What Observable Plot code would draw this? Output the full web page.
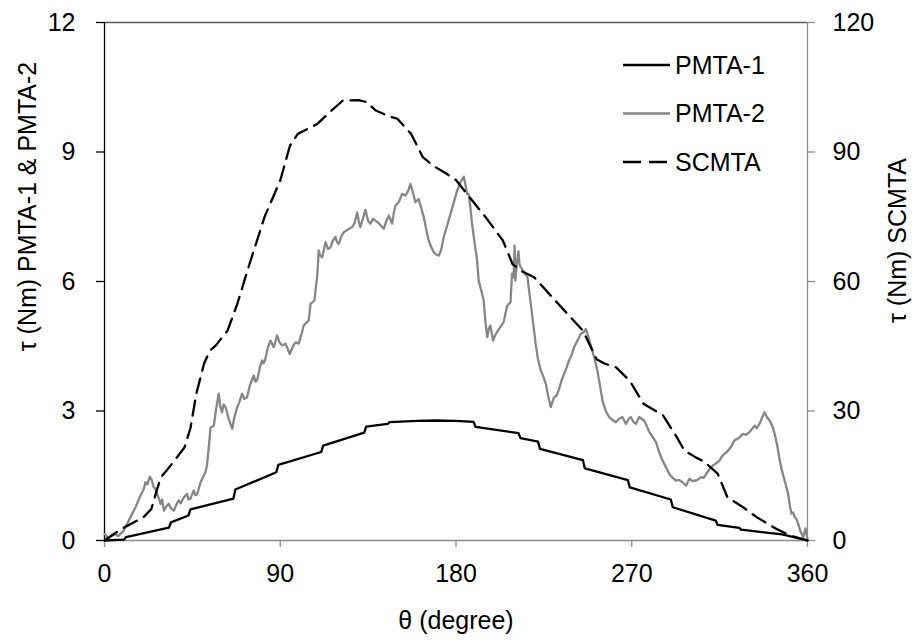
<!DOCTYPE html>
<html><head><meta charset="utf-8">
<script src="https://cdn.jsdelivr.net/npm/d3@7"></script>
<script src="https://cdn.jsdelivr.net/npm/@observablehq/plot@0.6"></script>
<style>
body{margin:0;background:#fff;}
#wrap{position:relative;width:915px;height:643px;font-family:Arial,"Liberation Sans",sans-serif;}
#legend{position:absolute;left:0;top:0;pointer-events:none;}
</style></head><body><div id="wrap"></div>
<script>
// ---- data (degree, torque) ----
const xTicks = [0, 90, 180, 270, 360];
const leftTicks = [0, 3, 6, 9, 12];
const rightTicks = [0, 30, 60, 90, 120];
const seriesNames = ["PMTA-1", "PMTA-2", "SCMTA"];
const xTitle = "θ (degree)";
const yLeftTitle = "τ (Nm) PMTA-1 & PMTA-2";
const yRightTitle = "τ (Nm) SCMTA";

const pmta1 = [[0,0],[10,0.02],[11,0.08],[33,0.30],[34,0.42],[43,0.58],[44,0.72],[66,0.97],[67,1.18],[88,1.58],[89,1.75],[111,2.05],[112,2.2],[133,2.5],[134,2.64],[145,2.70],[146,2.74],[160,2.77],[170,2.78],[180,2.77],[189,2.75],[190,2.63],[212,2.49],[213,2.37],[222,2.29],[223,2.12],[245,1.86],[246,1.67],[268,1.40],[269,1.23],[290,0.95],[291,0.77],[313,0.46],[314,0.36],[325,0.29],[326,0.25],[347,0.14],[360,0]];

const pmta2 = [[0,0.15],[2,0.05],[4,0.12],[5.6,0.15],[7,0.10],[9.9,0.23],[12,0.42],[13.3,0.54],[15.9,0.77],[18.4,1.04],[20,1.18],[21,1.35],[22,1.30],[23.2,1.48],[24.2,1.40],[25.2,1.23],[26,1.20],[27,1.08],[28.7,0.85],[29.5,0.95],[30.4,0.69],[31.5,0.78],[32.9,0.85],[34,0.75],[35.5,0.69],[37,0.85],[38,0.93],[39,0.86],[40.6,1.0],[42.3,1.08],[43,0.95],[44,0.97],[45.7,1.16],[46.5,1.05],[47.5,1.08],[49.2,1.35],[51.7,1.58],[52.5,1.75],[53.4,2.16],[54.3,2.62],[56,2.66],[57,3.0],[58.5,3.40],[59.3,3.1],[60.2,2.97],[61,3.15],[62,3.09],[63.6,2.82],[65.4,2.59],[66.5,2.85],[68,3.09],[69,3.2],[70.5,3.40],[71.5,3.28],[73,3.32],[74.5,3.6],[76.4,3.82],[77.3,3.68],[78.2,3.71],[79.5,4.0],[80.7,4.17],[81.5,4.10],[82.4,4.21],[83.5,4.45],[85,4.63],[86.7,4.48],[88.4,4.75],[89.5,4.6],[91,4.52],[92.7,4.56],[94,4.42],[94.9,4.32],[96.5,4.5],[97.8,4.59],[99.5,4.56],[101,4.80],[102,4.98],[104.6,5.10],[105.5,5.48],[107.5,5.56],[108.3,5.9],[108.9,6.10],[109.7,6.72],[110.5,6.6],[111.5,6.56],[113.2,6.91],[114.5,6.75],[115.7,6.79],[117,6.95],[118.3,7.03],[119,6.92],[120,6.87],[121.3,7.05],[122.5,7.14],[124.5,7.2],[126.8,7.26],[128,7.35],[129.4,7.60],[130.2,7.40],[131,7.26],[132.3,7.45],[133.6,7.66],[135,7.40],[136.2,7.34],[137.5,7.45],[138.7,7.41],[140.5,7.35],[141.8,7.28],[143,7.22],[144.3,7.40],[145.6,7.53],[147.3,7.34],[148.2,7.6],[149,7.76],[150.7,7.84],[152.4,8.03],[154.1,7.99],[155.5,8.1],[156.7,8.26],[158,8.05],[159.2,7.84],[160.9,7.91],[162.2,7.7],[163.5,7.49],[164.8,7.2],[166,6.95],[167.3,6.8],[168.6,6.68],[170,6.62],[171.2,6.60],[172.5,6.75],[173.7,7.03],[175.5,7.3],[177.2,7.57],[179,7.85],[180.6,8.11],[182.3,8.3],[184,8.43],[185,8.2],[185.7,8.03],[186.5,8.03],[187.4,7.7],[188.2,7.34],[189.5,6.9],[190.8,6.49],[191.6,6.02],[192.9,5.8],[194.2,5.56],[195,5.1],[196,4.71],[196.8,4.9],[197.6,4.98],[199,4.63],[200,4.75],[201,4.83],[202.7,4.95],[204.4,5.06],[205.3,5.25],[206.2,5.44],[207.9,5.52],[208.7,6.18],[209.5,6.1],[210,6.83],[210.4,6.02],[211.3,6.49],[212,6.7],[212.5,6.4],[213.2,6.33],[215,6.2],[216.6,6.10],[217.4,5.8],[218.3,5.48],[219.6,5.0],[220.9,4.52],[222,4.2],[223.4,3.94],[224.7,3.8],[226,3.63],[227.2,3.35],[228.5,3.09],[229.3,3.2],[230.2,3.32],[231.5,3.35],[232.8,3.51],[234,3.7],[235.4,3.86],[236.6,4.0],[237.9,4.17],[239.2,4.3],[240.5,4.48],[242.2,4.63],[243.9,4.79],[245.5,4.83],[246.5,4.9],[248.1,4.67],[249.8,4.40],[251,4.2],[252.4,3.94],[253.7,3.6],[255,3.24],[256.7,3.0],[258.4,2.86],[260,2.8],[261.8,2.74],[263.5,2.82],[265.2,2.86],[267,2.70],[268.2,2.8],[269.5,2.86],[270.8,2.75],[272.1,2.70],[273.8,2.86],[275,2.82],[276.3,2.78],[277.7,2.65],[279,2.51],[280.7,2.40],[282.4,2.28],[284,2.05],[285.8,1.85],[287.5,1.70],[289.2,1.54],[291,1.45],[292.6,1.39],[294.3,1.40],[296.1,1.35],[297.8,1.27],[299.5,1.43],[301,1.38],[303,1.39],[304.2,1.42],[305.5,1.47],[306.8,1.45],[308.1,1.54],[309.8,1.65],[311.5,1.74],[313,1.78],[314.9,1.85],[316.2,1.95],[317.5,2.01],[318.7,2.05],[320,2.12],[321.3,2.2],[322.6,2.32],[323.9,2.35],[325.2,2.39],[326.9,2.47],[328.5,2.45],[330.3,2.51],[331.5,2.58],[332.9,2.66],[334,2.6],[335.4,2.70],[336.8,2.85],[338,2.97],[339.3,2.85],[340.6,2.78],[342,2.65],[343.2,2.47],[344.5,2.2],[345.8,1.85],[347,1.6],[348.3,1.39],[350.1,1.08],[351,0.8],[351.8,0.62],[352.6,0.65],[353.5,0.54],[354.3,0.5],[355.2,0.39],[356.5,0.2],[357.8,0.08],[359,0.28],[360,0.02]];

// SCMTA read on the right axis (0–120)
const scmta = [[0,0],[8,2.5],[20,5.4],[24,7.3],[27,12],[29,14.7],[35,18],[41,21.6],[44,26],[47,34],[51,41],[54,44],[57,45.2],[63,48.6],[68,54.8],[74,63.7],[82,75],[90,83.4],[95,91.5],[99,94.2],[109,96.5],[116,99.5],[122,101.9],[130,102],[134,101.6],[139,99.6],[146,98.2],[150,97.7],[157,94.2],[163,88.8],[168,86.9],[175,85],[180,83.5],[187,79.5],[195,75],[204,69.5],[209,64],[214,62.3],[220,61],[232,55],[245,48.6],[252,42],[256,41],[262,40.1],[269,37],[276,31.7],[286,29],[293,24],[297,20.8],[303,19.2],[307,18.3],[314,15.5],[319,10],[327,7.7],[334,5.4],[344,2.7],[352,1],[360,0]];

// ratio between right and left axis extents
const axisRatio = rightTicks[rightTicks.length-1] / leftTicks[leftTicks.length-1];

const FONT = 'Arial, "Liberation Sans", sans-serif';
const FS = 25;
const GRAY_AX = "#8c8c8c";

const chart = Plot.plot({
  width: 915, height: 643,
  marginLeft: 104, marginRight: 108, marginTop: 22, marginBottom: 103,
  style: {fontFamily: FONT, fontSize: FS + "px", background: "#fff", color: "#000"},
  x: {domain: [0, 360]},
  y: {domain: [0, 12]},
  marks: [
    Plot.ruleY([12], {stroke: "#595959", strokeWidth: 1.3}),
    Plot.ruleX([360], {stroke: GRAY_AX, strokeWidth: 1.3}),
    Plot.ruleY([0], {stroke: GRAY_AX, strokeWidth: 1.3}),
    Plot.axisY(leftTicks, {anchor: "left", tickSize: 8, tickPadding: 21, fontSize: FS, stroke: "#000", strokeWidth: 1.3, fill: "#000", label: null}),
    Plot.axisY(rightTicks.map(d => d / axisRatio), {anchor: "right", tickSize: 7, tickPadding: 18, fontSize: FS, stroke: GRAY_AX, strokeWidth: 1.3, fill: "#000", tickFormat: d => String(Math.round(d * axisRatio)), label: null}),
    Plot.axisX(xTicks, {anchor: "bottom", tickSize: 7, tickPadding: 17, fontSize: FS, stroke: GRAY_AX, strokeWidth: 1.3, fill: "#000", label: null}),
    Plot.ruleX([0], {stroke: "#000", strokeWidth: 1.3}),
    Plot.line(pmta1, {x: d => d[0], y: d => d[1], stroke: "#000", strokeWidth: 2.3, strokeLinejoin: "round"}),
    Plot.line(pmta2, {x: d => d[0], y: d => d[1], stroke: "#868686", strokeWidth: 2.3, strokeLinejoin: "round"}),
    Plot.line(scmta, {x: d => d[0], y: d => d[1] / axisRatio, stroke: "#000", strokeWidth: 2.3, strokeDasharray: "15,8", strokeLinejoin: "round"}),
    Plot.text([xTitle], {frameAnchor: "bottom", dy: 80, fontSize: FS, lineAnchor: "middle", fill: "#000"}),
    Plot.text([yLeftTitle], {frameAnchor: "left", dx: -77, dy: -75, rotate: -90, fontSize: FS, lineAnchor: "middle", textAnchor: "middle", fill: "#000"}),
    Plot.text([yRightTitle], {frameAnchor: "right", dx: 90, dy: -41, rotate: -90, fontSize: FS, lineAnchor: "middle", textAnchor: "middle", fill: "#000"})
  ]
});
const wrap = document.getElementById("wrap");
wrap.appendChild(chart);

// legend overlay
const legendStyles = [
  {stroke: "#000", dash: null},
  {stroke: "#868686", dash: null},
  {stroke: "#000", dash: "18,8"}
];
const ns = "http://www.w3.org/2000/svg";
const lg = document.createElementNS(ns, "svg");
lg.setAttribute("id", "legend");
lg.setAttribute("width", 915); lg.setAttribute("height", 643);
seriesNames.forEach((name, i) => {
  const y = 65 + i * 48.5;
  const l = document.createElementNS(ns, "line");
  l.setAttribute("x1", 623); l.setAttribute("x2", 670);
  l.setAttribute("y1", y); l.setAttribute("y2", y);
  l.setAttribute("stroke", legendStyles[i].stroke);
  l.setAttribute("stroke-width", 2.3);
  if (legendStyles[i].dash) l.setAttribute("stroke-dasharray", legendStyles[i].dash);
  lg.appendChild(l);
  const t = document.createElementNS(ns, "text");
  t.setAttribute("x", 675); t.setAttribute("y", y);
  t.setAttribute("dy", "0.35em");
  t.setAttribute("font-family", FONT);
  t.setAttribute("font-size", FS);
  t.textContent = name;
  lg.appendChild(t);
});
wrap.appendChild(lg);
</script></body></html>
